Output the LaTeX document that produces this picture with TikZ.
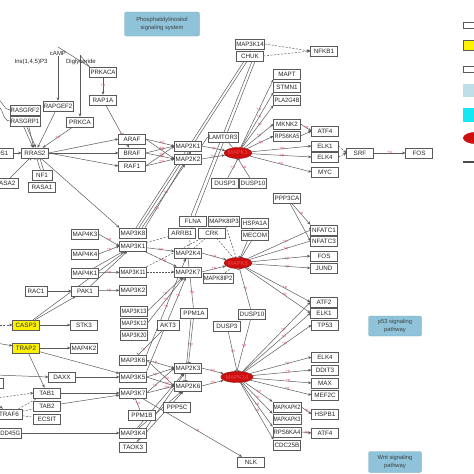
\documentclass[tikz,border=0pt]{standalone}
\usepackage{fontspec}
\setmainfont{Liberation Sans}
\usetikzlibrary{arrows.meta,shapes.geometric,backgrounds}
\definecolor{bd}{HTML}{5A5A5A}
\definecolor{lnc}{HTML}{5A5A5A}
\definecolor{pr}{HTML}{E0506A}
\definecolor{pwc}{HTML}{8EC3D9}
\definecolor{er}{HTML}{CC1010}
\definecolor{ert}{HTML}{F04848}
\newcommand\fitw[2][25pt]{\sbox0{#2}\ifdim\wd0>#1\resizebox{#1}{\height}{#2}\else#2\fi}
\begin{document}
\begin{tikzpicture}[x=1pt,y=-1pt,
 g/.style={draw=bd, fill=white, line width=0.55pt, minimum width=26.5pt, minimum height=10pt, inner xsep=0.6pt, inner ysep=0pt, font=\fontsize{6.3}{6.5}\selectfont, text=black!85},
 yg/.style={g, fill=yellow},
 el/.style={ellipse, draw=er!70!black, fill=er, minimum width=27pt, minimum height=11pt, inner sep=0pt, font=\fontsize{5.8}{6}\selectfont, text=ert},
 pwb/.style={rectangle, rounded corners=2pt, fill=pwc, draw=pwc!85!black, line width=0.3pt, align=center, font=\fontsize{5.8}{7.2}\selectfont, text=black!75},
 cp/.style={font=\fontsize{6}{6.2}\selectfont, inner sep=0.5pt, text=black!85},
 e/.style={draw=lnc, line width=0.5pt},
 ea/.style={e, -{Stealth[length=3.4pt,width=2.8pt]}},
 ei/.style={e, -{Bar[width=5pt,line width=0.6pt]}},
 ed/.style={e, dash pattern=on 2pt off 1.5pt},
 eda/.style={ed, -{Stealth[length=3.4pt,width=2.8pt]}},
 pm/.style={font=\fontsize{4}{4.2}\selectfont, text=pr, inner sep=0pt, pos=.7}]
\useasboundingbox (0,0) rectangle (474,474);
\clip (0,0) rectangle (474,474);

% pathway boxes
\node[pwb, minimum width=75pt, minimum height=24pt] (PIS) at (162,24) {Phosphatidylinositol\\signaling system};
\node[pwb, minimum width=53pt, minimum height=20pt] (P53) at (395,326) {p53 signaling\\pathway};
\node[pwb, minimum width=53pt, minimum height=21pt] (WNT) at (395,462) {Wnt signaling\\pathway};

% compounds
\node[cp] (cAMP) at (58,53) {cAMP};
\node[cp] (IP3) at (31,62) {Ins(1,4,5)P3};
\node[cp] (DAG) at (81,62) {Diglyceride};
\coordinate (c1) at (58,47);
\coordinate (c2) at (80,55);

% top section
\node[g] (PRKACA) at (103,72) {\fitw{PRKACA}};
\node[g] (RAP1A) at (103,100) {\fitw{RAP1A}};
\node[g, minimum width=30pt] (RASGRF2) at (25,110) {\fitw[28.5pt]{RASGRF2}};
\node[g, minimum width=30pt] (RAPGEF2) at (58,106) {\fitw[28.5pt]{RAPGEF2}};
\node[g, minimum width=30pt] (RASGRP1) at (25,121) {\fitw[28.5pt]{RASGRP1}};
\node[g] (PRKCA) at (80,122) {\fitw{PRKCA}};
\node[g] (ARAF) at (132,139) {ARAF};
\node[g] (BRAF) at (132,153) {BRAF};
\node[g] (RAF1) at (132,166) {RAF1};
\node[g] (SOS1) at (0,153) {SOS1};
\node[g] (RRAS2) at (35,153) {\fitw{RRAS2}};
\node[g] (RASA2) at (5,183) {\fitw{RASA2}};
\node[g, minimum width=20pt] (NF1) at (42,175) {NF1};
\node[g] (RASA1) at (42,187) {\fitw{RASA1}};
\node[g, minimum width=29pt] (MAP3K14) at (250,44) {\fitw[27.5pt]{MAP3K14}};
\node[g] (CHUK) at (250,56) {CHUK};
\node[g] (NFKB1) at (324,51) {\fitw{NFKB1}};
\node[g] (MAPT) at (287,74) {MAPT};
\node[g] (STMN1) at (287,87) {\fitw{STMN1}};
\node[g] (PLA2G4B) at (287,100) {\fitw{PLA2G4B}};
\node[g] (MKNK2) at (287,124) {\fitw{MKNK2}};
\node[g] (RPS6KA5) at (287,136) {\fitw{RPS6KA5}};
\node[g] (ATF4a) at (325,131) {ATF4};
\node[g] (ELK1a) at (325,146) {ELK1};
\node[g] (ELK4a) at (325,157) {ELK4};
\node[g] (MYC) at (325,172) {MYC};
\node[g] (SRF) at (360,153) {SRF};
\node[g] (FOSa) at (419,153) {FOS};
\node[g] (MAP2K1) at (188,146) {\fitw{MAP2K1}};
\node[g] (MAP2K2) at (188,159) {\fitw{MAP2K2}};
\node[g, minimum width=30pt] (LAMTOR3) at (223,137) {\fitw[28.5pt]{LAMTOR3}};
\node[el] (MAPK1) at (238,153) {MAPK1};
\node[g] (DUSP3a) at (225,183) {\fitw{DUSP3}};
\node[g] (DUSP10a) at (253,183) {\fitw{DUSP10}};

% middle section
\node[g] (MAP3K8) at (133,233) {\fitw{MAP3K8}};
\node[g] (MAP3K1) at (133,246) {\fitw{MAP3K1}};
\node[g] (MAP3K11) at (133,272) {\fitw{MAP3K11}};
\node[g] (MAP3K2) at (133,290) {\fitw{MAP3K2}};
\node[g] (MAP4K3) at (85,234) {\fitw{MAP4K3}};
\node[g] (MAP4K4) at (85,254) {\fitw{MAP4K4}};
\node[g] (MAP4K1) at (85,273) {\fitw{MAP4K1}};
\node[g, minimum width=22pt] (RAC1) at (36,291) {RAC1};
\node[g] (PAK1) at (85,291) {PAK1};
\node[g] (FLNA) at (193,221) {FLNA};
\node[g, minimum width=31pt] (MAPK8IP3) at (224,221) {\fitw[29.5pt]{MAPK8IP3}};
\node[g] (ARRB1) at (182,233) {\fitw{ARRB1}};
\node[g] (CRK) at (212,233) {CRK};
\node[g] (HSPA1A) at (255,223) {\fitw{HSPA1A}};
\node[g] (MECOM) at (255,235) {\fitw{MECOM}};
\node[g] (PPP3CA) at (287,198) {\fitw{PPP3CA}};
\node[g] (MAP2K4) at (188,253) {\fitw{MAP2K4}};
\node[g] (MAP2K7) at (188,272) {\fitw{MAP2K7}};
\node[g, minimum width=30pt] (MAPK8IP2) at (218,278) {\fitw[28.5pt]{MAPK8IP2}};
\node[el] (MAPK8) at (238,263) {MAPK8};
\node[g] (NFATC1) at (324,230) {\fitw{NFATC1}};
\node[g] (NFATC3) at (324,241) {\fitw{NFATC3}};
\node[g] (FOSb) at (324,256) {FOS};
\node[g] (JUND) at (324,268) {JUND};
\node[g] (ATF2) at (324,302) {ATF2};
\node[g] (ELK1b) at (324,313) {ELK1};
\node[g] (TP53) at (325,325) {TP53};
\node[g] (PPM1A) at (194,313) {\fitw{PPM1A}};
\node[g] (DUSP10b) at (252,314) {\fitw{DUSP10}};

% bottom section
\node[g] (MAP3K13) at (134,311) {\fitw{MAP3K13}};
\node[g] (MAP3K12) at (134,323) {\fitw{MAP3K12}};
\node[g] (MAP3K20) at (134,335) {\fitw{MAP3K20}};
\node[g, minimum width=22pt] (AKT3) at (168,325) {AKT3};
\node[g] (DUSP3b) at (227,326) {\fitw{DUSP3}};
\node[yg] (CASP3) at (26,325) {\fitw{CASP3}};
\node[g] (STK3) at (84,325) {STK3};
\node[yg] (TRAP2) at (26,348) {\fitw{TRAP2}};
\node[g] (MAP4K2) at (84,348) {\fitw{MAP4K2}};
\node[g] (MAP3K6) at (133,360) {\fitw{MAP3K6}};
\node[g] (MAP3K5) at (133,377) {\fitw{MAP3K5}};
\node[g] (MAP3K7) at (133,393) {\fitw{MAP3K7}};
\node[g] (DAXX) at (62,377) {DAXX};
\node[g] (MAP2K3) at (188,368) {\fitw{MAP2K3}};
\node[g] (MAP2K6) at (188,386) {\fitw{MAP2K6}};
\node[el] (MAPK14) at (237,377) {MAPK14};
\node[g] (TAB1) at (47,393) {TAB1};
\node[g] (TAB2) at (47,406) {TAB2};
\node[g] (ECSIT) at (47,419) {\fitw{ECSIT}};
\node[g] (TRAF6) at (9,414) {\fitw{TRAF6}};
\node[g, minimum width=30pt] (GADD45G) at (6,433) {\fitw[28.5pt]{GADD45G}};
\node[g] (PPM1B) at (142,415) {\fitw{PPM1B}};
\node[g] (MAP3K4) at (133,433) {\fitw{MAP3K4}};
\node[g] (TAOK3) at (133,447) {\fitw{TAOK3}};
\node[g] (PPP5C) at (177,407) {\fitw{PPP5C}};
\node[g] (NLK) at (251,462) {NLK};
\node[g] (ELK4b) at (325,357) {ELK4};
\node[g] (DDIT3) at (325,370) {\fitw{DDIT3}};
\node[g] (MAX) at (325,383) {MAX};
\node[g] (MEF2C) at (325,395) {\fitw{MEF2C}};
\node[g] (HSPB1) at (325,414) {\fitw{HSPB1}};
\node[g] (ATF4b) at (325,433) {ATF4};
\node[g, minimum width=28pt] (MAPKAPK2) at (287,407) {\fitw[27pt]{MAPKAPK2}};
\node[g, minimum width=28pt] (MAPKAPK3) at (287,419) {\fitw[27pt]{MAPKAPK3}};
\node[g, minimum width=28pt] (RPS6KA4) at (287,432) {\fitw[27pt]{RPS6KA4}};
\node[g] (CDC25B) at (287,445) {\fitw{CDC25B}};

\coordinate (l1) at (-4,99);
\coordinate (l2) at (-4,106);
\coordinate (l3) at (-4,325);
\coordinate (l4) at (-4,343);
\coordinate (l5) at (-4,375);
\coordinate (l6) at (-4,398);
\coordinate (l7) at (-4,403);

\begin{pgfonlayer}{background}
% top
\draw[e] (c1) -- (PRKACA.north west);
\draw[e] (c2) -- (PRKACA.north west);
\draw[ea] (cAMP) -- (RAPGEF2);
\draw[ea] (c2) -- (PRKCA);
\draw[ea] (PRKACA) -- node[pm,pos=.5]{+p} (RAP1A);
\draw[e] (l1) to[out=0,in=180] (RASGRF2.west);
\draw[e] (l2) to[out=0,in=180] (RASGRP1.west);
\draw[ea] (RASGRF2) -- (RRAS2);
\draw[ea] ([xshift=-1.5pt]RASGRP1.south) -- ([xshift=-2pt]RRAS2.north);
\draw[ea] ([xshift=1.5pt]RASGRP1.south) -- ([xshift=1pt]RRAS2.north);
\draw[ea] (RAPGEF2) -- (RRAS2);
\draw[ea] (PRKCA) -- node[pm,pos=.5]{+p} (RRAS2);
\draw[ea] (RAP1A) -- node[pm]{+p} (BRAF);
\draw[ea] (SOS1) -- (RRAS2);
\draw[ea] (RRAS2.east) -- (ARAF.west);
\draw[ea] (RRAS2.east) -- (BRAF.west);
\draw[ea] (RRAS2.east) -- (RAF1.west);
\draw[ei] (RASA2) -- (RRAS2);
\draw[ei] (NF1) -- (RRAS2);
\draw[ei] ([xshift=5pt]RASA1.north) -- ([xshift=5pt]RRAS2.south);
\draw[ea] (RRAS2) -- (MAP3K8.north west);
\foreach \R in {ARAF,BRAF,RAF1}{
  \foreach \M in {MAP2K1,MAP2K2}{
    \draw[ea] (\R.east) -- node[pm,pos=.55]{+p} (\M.west);
  }
}
\draw[ea] (MAP2K1.east) -- node[pm,pos=.5]{+p} (MAPK1);
\draw[ea] (MAP2K2.east) -- node[pm,pos=.5]{+p} (MAPK1);
\draw[e] (MAP2K1.east) -- (LAMTOR3.west);
\draw[e] (LAMTOR3) -- (MAPK1);
\draw[ea] (MAP3K14) -- (CHUK);
\draw[eda] (MAP3K14.east) -- (NFKB1.west);
\draw[eda] (CHUK.east) -- (NFKB1.west);
\draw[e] ([xshift=-6pt]CHUK.south) -- ([xshift=3pt]MAP3K8.north);
\draw[e] ([xshift=-3pt]CHUK.south) -- ([xshift=6pt]MAP3K8.north);
\draw[e] ([xshift=2pt]CHUK.south) -- ([xshift=-2pt]FLNA.north);
\draw[e] ([xshift=5pt]CHUK.south) -- ([xshift=2pt]FLNA.north);
\draw[ea] ([xshift=9pt]MAP3K8.north) -- node[pm,pos=.55]{+p} ([xshift=-3pt]MAP2K2.south);
\draw[ea] ([xshift=12pt]MAP3K8.north) -- node[pm,pos=.25]{+p} ([xshift=3pt]MAP2K1.south);
\foreach \T in {MAPT,STMN1,PLA2G4B}{
  \draw[ea] (MAPK1) -- node[pm,pos=.55]{+p} (\T.south west);
}
\foreach \T in {MKNK2,RPS6KA5,ELK1a,ELK4a,MYC}{
  \draw[ea] (MAPK1) -- node[pm,pos=.5]{+p} (\T.west);
}
\draw[ea] (MKNK2.east) -- node[pm,pos=.5]{+p} (ATF4a.west);
\draw[ea] (RPS6KA5.east) -- (ATF4a.west);
\draw[eda] (ELK1a.east) -- (SRF.west);
\draw[eda] (ELK4a.east) -- (SRF.west);
\draw[ea] (SRF) -- node[pm,pos=.5]{+p} (FOSa);
\draw[ei] (DUSP3a) -- node[pm,pos=.5]{+p} (MAPK1.south);
\draw[ei] (DUSP10a) -- node[pm,pos=.5]{+p} (MAPK1.south);

% middle
\draw[ea] (MAP4K3.east) -- node[pm,pos=.5]{+p} (MAP3K1.west);
\draw[ea] (MAP4K4.east) -- node[pm,pos=.5]{+p} (MAP3K1.west);
\draw[ea] (MAP4K1) -- (MAP3K1);
\draw[ea] (MAP4K1) -- node[pm,pos=.5]{+p} (MAP3K11);
\draw[ea] (RAC1) -- (PAK1);
\draw[ea] (PAK1) -- (MAP3K1);
\draw[ea] (PAK1) -- node[pm,pos=.5]{+p} (MAP3K2);
\draw[ea] (CASP3) -- (PAK1);
\draw[ea] (CASP3) -- (MAP3K1);
\draw[ea] (MAP3K1) -- node[pm,pos=.5]{+p} (MAP2K4);
\draw[ea] (MAP3K1) -- node[pm,pos=.6]{+p} (MAP2K7);
\draw[e, densely dotted, -{Stealth[length=3.4pt,width=2.8pt]}] (MAP3K11) -- (MAP2K7);
\draw[ed] (MAP3K1) -- (ARRB1);
\draw[ed] (MAP3K11.north east) -- (CRK);
\draw[ed] (CRK) -- (MAP2K4);
\draw[ed] (CRK) -- (MAPK8);
\draw[ed] (MAPK8IP3) -- (MAPK8);
\draw[ed] (FLNA) -- (MAP2K4);
\draw[ed] (MAPK8IP2) -- (MAPK8);
\draw[ea] (MAP2K4.east) -- node[pm,pos=.5]{+p} (MAPK8);
\draw[ea] (MAP2K7.east) -- node[pm,pos=.5]{+p} (MAPK8);
\draw[ei] (HSPA1A) -- (MAPK8);
\draw[ei] (MECOM) -- (MAPK8);
\draw[ei] (MAPK8) -- node[pm,pos=.6]{+p} (NFATC1.west);
\draw[ei] (MAPK8) -- node[pm,pos=.6]{+p} (NFATC3.west);
\foreach \T in {FOSb,JUND,ATF2,ELK1b}{
  \draw[ea] (MAPK8) -- node[pm,pos=.6]{+p} (\T.west);
}
\draw[ea] (PPP3CA) -- node[pm,pos=.5]{+p} (NFATC1.north west);
\draw[ea] (PPP3CA) -- (NFATC3.west);
\draw[ei] (DUSP10b) -- node[pm,pos=.5]{+p} (MAPK8);
\draw[ei] (PPM1A) -- node[pm,pos=.3]{+p} (MAP2K4.south);
\draw[ea] (MAP3K13.east) -- node[pm,pos=.5]{+p} (MAP2K7);
\draw[ea] (MAP3K12.east) -- node[pm,pos=.5]{+p} (MAP2K7);
\draw[ea] (MAP3K6.north east) -- node[pm,pos=.5]{+p} (MAP2K4);
\draw[ea] (MAP3K5.north east) -- node[pm,pos=.8]{+p} (MAP2K7);

% bottom
\draw[eda] (l3) -- (CASP3);
\draw[ea] (l4) -- (TRAP2);
\draw[ea] (l5) -- (DAXX.west);
\draw[eda] (l6) -- (TAB1.west);
\draw[ea] (l7) -- (TRAF6);
\draw[ea] (CASP3) -- (STK3);
\draw[ea] (TRAP2) -- (MAP4K2);
\draw[ea] (TRAP2) -- (MAP3K5);
\draw[ea] (TRAP2) -- (TAB1);
\draw[ea] (DAXX) -- (MAP3K5);
\draw[ed] (TRAF6) -- (TAB1);
\draw[ed] (TRAF6) -- (TAB2);
\draw[ed] (TRAF6) -- (ECSIT);
\draw[ea] (TAB1) -- (MAP3K7);
\draw[ea] (TAB2) -- (MAP3K7);
\draw[ea] (GADD45G) -- (MAP3K4);
\foreach \K in {MAP3K6,MAP3K5,MAP3K7}{
  \draw[ea] (\K.east) -- node[pm,pos=.3]{+p} (MAP2K3.west);
  \draw[ea] (\K.east) -- node[pm,pos=.72]{+p} (MAP2K6.west);
}
\draw[ea] (MAP3K4) -- (MAP2K3);
\draw[ea] (MAP3K4) -- (MAP2K6);
\draw[ea] (TAOK3) -- (MAP2K3);
\draw[ea] (TAOK3) -- (MAP2K6);
\draw[ei] (PPM1B) -- node[pm,pos=.5]{+p} (MAP3K7);
\draw[ei] (AKT3) -- node[pm,pos=.8]{+p} (MAP3K6);
\draw[ei] (PPM1A) -- node[pm,pos=.6]{+p} (MAP2K3);
\draw[ei] ([xshift=-3pt]PPM1A.south) -- ([xshift=-3pt]MAP2K6.north);
\draw[ea] (MAP2K3.east) -- node[pm,pos=.5]{+p} (MAPK14);
\draw[ea] (MAP2K6.east) -- node[pm,pos=.5]{+p} (MAPK14);
\draw[ei] (DUSP3b) -- node[pm,pos=.5]{+p} (MAPK14.north);
\draw[ei] (DUSP10b) -- node[pm,pos=.5]{+p} (MAPK14.north);
\foreach \T in {ATF2,ELK1b,TP53,ELK4b,DDIT3,MAX,MEF2C}{
  \draw[ea] (MAPK14) -- node[pm,pos=.6]{+p} (\T.west);
}
\foreach \T in {MAPKAPK2,MAPKAPK3,RPS6KA4,CDC25B}{
  \draw[ea] (MAPK14) -- node[pm,pos=.5]{+p} (\T.north west);
}
\draw[ea] (MAPKAPK2.east) -- node[pm,pos=.5]{+p} (HSPB1.west);
\draw[ea] (RPS6KA4.east) -- node[pm,pos=.5]{+p} (ATF4b.west);
\draw[ea] (MAP3K7) -- node[pm,pos=.55]{+p} (NLK);
\end{pgfonlayer}

% partial box at left edge
\draw[bd, line width=0.55pt] (-25,378) rectangle (3,388);

% legend column (cut by the right edge)
\draw[bd, fill=white, line width=0.55pt] (463,22) rectangle (480,28);
\draw[bd, fill=yellow, line width=0.55pt] (463,40) rectangle (480,50);
\draw[bd, fill=white, line width=0.55pt] (463,66) rectangle (480,72);
\fill[fill={rgb,255:red,190;green,221;blue,230}] (463,84) rectangle (480,97);
\fill[fill={rgb,255:red,20;green,232;blue,240}] (463,108) rectangle (480,122);
\fill[er] (476,138) ellipse (13pt and 6pt);
\draw[black!70, line width=1.2pt] (463,162) -- (480,162);
\end{tikzpicture}
\end{document}
